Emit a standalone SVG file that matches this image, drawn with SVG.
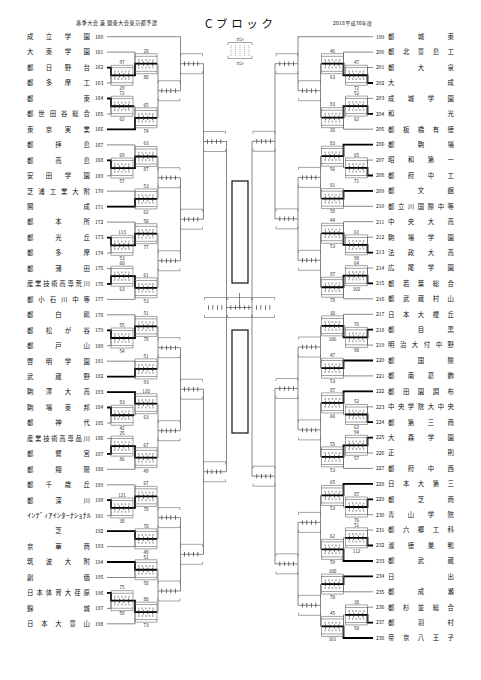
<svg xmlns="http://www.w3.org/2000/svg" xmlns:xlink="http://www.w3.org/1999/xlink" width="481" height="680" viewBox="0 0 481 680">
<style>
text{font-family:"Noto Sans CJK JP","Noto Sans CJK SC","Noto Sans",sans-serif;fill:#111}
.nm{font-size:6.4px}
.no{font-size:5px}
.sc{font-size:4.6px;text-anchor:middle;fill:#222}
.lg{font-size:3.8px;text-anchor:middle;fill:#333}
.ln{fill:none;stroke:#555;stroke-width:0.7}
.w{fill:none;stroke:#000;stroke-width:1.8}
.br{fill:none;stroke:#666;stroke-width:0.6}
.tk{fill:none;stroke:#333;stroke-width:4.5;stroke-dasharray:0.7 3.8}
.dt{fill:none;stroke:#aaa;stroke-width:2;stroke-dasharray:1.4 2.2}
.dv{fill:none;stroke:#777;stroke-width:0.6;stroke-dasharray:1 1}
.big{fill:none;stroke:#222;stroke-width:1.3}
</style>
<defs>
<g id="bu"><path class="br" d="M0,-7.5V-10H22V-7.5M0,7.5V10H22V7.5"/><path class="tk" d="M3.5,0H21"/></g>
<g id="bp"><path class="br" d="M0,-7.5V-10H22V-7.5M0,7.5V10H22V7.5"/><rect class="br" x="0" y="-7.5" width="22" height="15"/><path class="dt" d="M3,-3.8H21M3,3.8H21"/><path class="tk" d="M3.5,0H21"/></g>
</defs>
<rect width="481" height="680" fill="#fff"/>

<g id="header">
<text x="76" y="24.5" font-size="5.3" textLength="81" lengthAdjust="spacing">春季大会 兼 関東大会東京都予選</text>
<text x="205" y="28" font-size="11.5" textLength="68" lengthAdjust="spacing">Cブロック</text>
<text x="333" y="24.5" font-size="5" textLength="39" lengthAdjust="spacing">2018平成30年度</text>
</g>

<g id="legend">
<text class="lg" x="240" y="40.5">合計</text>
<path class="br" d="M228,45V42.5H252V45M228,56V58.5H252V56"/>
<path class="dv" d="M231,45V57M235.5,45V57M240,45V57M244.5,45V57M249,45V57"/>
<text class="lg" x="240" y="64.5">合計</text>
</g>

<g id="connectors">
<path class="ln" d="M107,36.7H180.5M107,52.1H135M107,67.6H111M107,83H111M107,98.5H111M107,114H111M107,129.4H135M107,144.9H135M107,160.3H111M107,175.8H111M107,191.2H135M107,206.7H135M107,222.1H135M107,237.6H111M107,253H111M107,268.5H111M107,283.9H111M107,299.4H135M107,314.8H135M107,330.3H111M107,345.7H111M107,361.2H135M107,376.6H135M107,392.1H135M107,407.5H111M107,423H111M107,438.4H111M107,453.9H111M107,469.3H135M107,484.8H135M107,500.2H111M107,515.7H111M107,531.1H135M107,546.6H135M107,562H135M107,577.5H135M107,592.9H111M107,608.4H111M107,623.8H135"/>
<path class="ln" d="M111,67.6V83M111,75.3H135M111,98.5V114M111,106.25H135M111,160.3V175.8M111,168.05H135M111,237.6V253M111,245.3H135M111,268.5V283.9M111,276.2H135M111,330.3V345.7M111,338H135M111,407.5V423M111,415.25H135M111,438.4V453.9M111,446.15H135M111,500.2V515.7M111,507.95H135M111,592.9V608.4M111,600.65H135"/>
<path class="ln" d="M135,52.1V75.3M135,63.7H158M135,106.25V129.4M135,117.8H158M135,144.9V168.05M135,156.5H158M135,191.2V206.7M135,198.95H158M135,222.1V245.3M135,233.7H158M135,276.2V299.4M135,287.8H158M135,314.8V338M135,326.4H158M135,361.2V376.6M135,368.9H158M135,392.1V415.25M135,403.7H158M135,446.15V469.3M135,457.7H158M135,484.8V507.95M135,496.4H158M135,531.1V546.6M135,538.85H158M135,562V577.5M135,569.75H158M135,600.65V623.8M135,612.2H158"/>
<path class="ln" d="M158,63.7V117.8M158,90.75H180.5M158,156.5V198.95M158,177.7H180.5M158,233.7V287.8M158,260.75H180.5M158,326.4V368.9M158,347.65H180.5M158,403.7V457.7M158,430.7H180.5M158,496.4V538.85M158,517.6H180.5M158,569.75V612.2M158,591H180.5"/>
<path class="ln" d="M180.5,36.7V90.75M180.5,63.7H203.5M180.5,177.7V260.75M180.5,219.2H203.5M180.5,347.65V430.7M180.5,389.2H203.5M180.5,517.6V591M180.5,554.3H203.5"/>
<path class="ln" d="M203.5,63.7V219.2M203.5,141.5H226.5M203.5,389.2V554.3M203.5,471.75H226.5M226.5,141.5V471.75M226.5,307.5H252"/>
<path class="ln" d="M373,36.7H298M373,52.1H343.5M373,67.5H367.5M373,83H367.5M373,98.4H367.5M373,113.8H367.5M373,129.2H343.5M373,144.6H343.5M373,160.1H367.5M373,175.5H367.5M373,190.9H343.5M373,206.3H343.5M373,221.7H343.5M373,237.2H367.5M373,252.6H367.5M373,268H367.5M373,283.4H367.5M373,298.8H343.5M373,314.3H343.5M373,329.7H367.5M373,345.1H367.5M373,360.5H343.5M373,375.9H343.5M373,391.3H343.5M373,406.8H367.5M373,422.2H367.5M373,437.6H367.5M373,453H367.5M373,468.4H343.5M373,483.9H343.5M373,499.3H367.5M373,514.7H367.5M373,530.1H367.5M373,545.5H367.5M373,561H343.5M373,576.4H343.5M373,591.8H343.5M373,607.2H367.5M373,622.6H367.5M373,638H343.5"/>
<path class="ln" d="M367.5,67.5V83M367.5,75.25H343.5M367.5,98.4V113.8M367.5,106.1H343.5M367.5,160.1V175.5M367.5,167.8H343.5M367.5,237.2V252.6M367.5,244.9H343.5M367.5,268V283.4M367.5,275.7H343.5M367.5,329.7V345.1M367.5,337.4H343.5M367.5,406.8V422.2M367.5,414.5H343.5M367.5,437.6V453M367.5,445.3H343.5M367.5,499.3V514.7M367.5,507H343.5M367.5,530.1V545.5M367.5,537.8H343.5M367.5,607.2V622.6M367.5,614.9H343.5"/>
<path class="ln" d="M343.5,52.1V75.25M343.5,63.7H320.5M343.5,106.1V129.2M343.5,117.65H320.5M343.5,144.6V167.8M343.5,156.2H320.5M343.5,190.9V206.3M343.5,198.6H320.5M343.5,221.7V244.9M343.5,233.3H320.5M343.5,275.7V298.8M343.5,287.25H320.5M343.5,314.3V337.4M343.5,325.85H320.5M343.5,360.5V375.9M343.5,368.2H320.5M343.5,391.3V414.5M343.5,402.9H320.5M343.5,445.3V468.4M343.5,456.85H320.5M343.5,483.9V507M343.5,495.45H320.5M343.5,537.8V561M343.5,549.4H320.5M343.5,576.4V591.8M343.5,584.1H320.5M343.5,614.9V638M343.5,626.45H320.5"/>
<path class="ln" d="M320.5,63.7V117.65M320.5,90.7H298M320.5,156.2V198.6M320.5,177.4H298M320.5,233.3V287.25M320.5,260.3H298M320.5,325.85V368.2M320.5,347H298M320.5,402.9V456.85M320.5,429.9H298M320.5,495.45V549.4M320.5,522.4H298M320.5,584.1V626.45M320.5,605.3H298"/>
<path class="ln" d="M298,36.7V90.7M298,63.7H275M298,177.4V260.3M298,218.85H275M298,347V429.9M298,388.45H275M298,522.4V605.3M298,563.85H275"/>
<path class="ln" d="M275,63.7V218.85M275,141.3H252M275,388.45V563.85M275,476.15H252M252,141.3V476.15M239.5,307.5V293"/>
<path class="w" d="M107,67.6H111V75.3H135V63.7H157M107,98.5H111V106.25H134M107,129.4H135V117.8H157M107,160.3H111V168.05H135V156.5H157M107,206.7H135V198.95H157M107,237.6H111V245.3H135V233.7H157M107,283.9H111V276.2H135V287.8H157M107,330.3H111V338H135V326.4H157M107,376.6H135V368.9H157M107,392.1H135V403.7H157M107,407.5H111V415.25H134M107,453.9H111V446.15H135V457.7H157M107,500.2H111V507.95H135V496.4H157M107,531.1H135V538.85H157M107,562H135V569.75H157M107,592.9H111V600.65H135V612.2H157"/>
<path class="w" d="M373,83H367.5V75.25H343.5V63.7H321.5M373,113.8H367.5V106.1H343.5V117.65H321.5M373,144.6H343.5V156.2H321.5M373,175.5H367.5V167.8H345M373,190.9H343.5V198.6H321.5M373,252.6H367.5V244.9H343.5V233.3H321.5M373,283.4H367.5V275.7H343.5V287.25H321.5M373,329.7H367.5V337.4H343.5V325.85H321.5M373,360.5H343.5V368.2H321.5M373,391.3H343.5V402.9H321.5M373,422.2H367.5V414.5H345M373,437.6H367.5V445.3H343.5V456.85H321.5M373,483.9H343.5V495.45H321.5M373,499.3H367.5V507H345M373,545.5H367.5V537.8H345M373,561H343.5V549.4H321.5M373,576.4H343.5V584.1H321.5M373,622.6H367.5V614.9H345M373,638H343.5V626.45H321.5"/>
</g>

<g id="center">
<rect class="big" x="232" y="181" width="16" height="102"/>
<rect class="big" x="232" y="330" width="16" height="103"/>
<use href="#bu" x="204.5" y="307.5"/>
<use href="#bu" x="252.5" y="307.5"/>
<path class="br" d="M227.5,300V297.5H251.5V300M227.5,315V317.5H251.5V315"/>
<path class="tk" d="M230.5,307.5H250"/>
</g>

<g id="matches-left">
<g id="m162-163"><use href="#bp" x="111" y="75.3"/><text class="sc" x="122" y="64.1">97</text><text class="sc" x="122" y="90.1">29</text></g>
<g id="m164-165"><use href="#bp" x="111" y="106.25"/><text class="sc" x="122" y="95.05">72</text><text class="sc" x="122" y="121.05">62</text></g>
<g id="m168-169"><use href="#bp" x="111" y="168.05"/><text class="sc" x="122" y="156.85">69</text><text class="sc" x="122" y="182.85">57</text></g>
<g id="m173-174"><use href="#bp" x="111" y="245.3"/><text class="sc" x="122" y="234.1">113</text><text class="sc" x="122" y="260.1">53</text></g>
<g id="m175-176"><use href="#bp" x="111" y="276.2"/><text class="sc" x="122" y="265">60</text><text class="sc" x="122" y="291">63</text></g>
<g id="m179-180"><use href="#bp" x="111" y="338"/><text class="sc" x="122" y="326.8">55</text><text class="sc" x="122" y="352.8">54</text></g>
<g id="m184-185"><use href="#bp" x="111" y="415.25"/><text class="sc" x="122" y="404.05">83</text><text class="sc" x="122" y="430.05">42</text></g>
<g id="m186-187"><use href="#bp" x="111" y="446.15"/><text class="sc" x="122" y="434.95">25</text><text class="sc" x="122" y="460.95">86</text></g>
<g id="m190-191"><use href="#bp" x="111" y="507.95"/><text class="sc" x="122" y="496.75">121</text><text class="sc" x="122" y="522.75">30</text></g>
<g id="m196-197"><use href="#bp" x="111" y="600.65"/><text class="sc" x="122" y="589.45">75</text><text class="sc" x="122" y="615.45">58</text></g>
<g id="n1"><use href="#bp" x="135" y="63.7"/><text class="sc" x="146" y="52.5">28</text><text class="sc" x="146" y="78.5">80</text></g>
<g id="n2"><use href="#bp" x="135" y="117.8"/><text class="sc" x="146" y="106.6">65</text><text class="sc" x="146" y="132.6">74</text></g>
<g id="n3"><use href="#bp" x="135" y="156.5"/><text class="sc" x="146" y="145.3">63</text><text class="sc" x="146" y="171.3">87</text></g>
<g id="n4"><use href="#bp" x="135" y="198.95"/><text class="sc" x="146" y="187.75">53</text><text class="sc" x="146" y="213.75">62</text></g>
<g id="n5"><use href="#bp" x="135" y="233.7"/><text class="sc" x="146" y="222.5">50</text><text class="sc" x="146" y="248.5">77</text></g>
<g id="n6"><use href="#bp" x="135" y="287.8"/><text class="sc" x="146" y="276.6">61</text><text class="sc" x="146" y="302.6">53</text></g>
<g id="n7"><use href="#bp" x="135" y="326.4"/><text class="sc" x="146" y="315.2">51</text><text class="sc" x="146" y="341.2">78</text></g>
<g id="n8"><use href="#bp" x="135" y="368.9"/><text class="sc" x="146" y="357.7">51</text><text class="sc" x="146" y="383.7">93</text></g>
<g id="n9"><use href="#bp" x="135" y="403.7"/><text class="sc" x="146" y="392.5">110</text><text class="sc" x="146" y="418.5">63</text></g>
<g id="n10"><use href="#bp" x="135" y="457.7"/><text class="sc" x="146" y="446.5">67</text><text class="sc" x="146" y="472.5">49</text></g>
<g id="n11"><use href="#bp" x="135" y="496.4"/><text class="sc" x="146" y="485.2">67</text><text class="sc" x="146" y="511.2">78</text></g>
<g id="n12"><use href="#bp" x="135" y="538.85"/><text class="sc" x="146" y="527.65">70</text><text class="sc" x="146" y="553.65">48</text></g>
<g id="n13"><use href="#bp" x="135" y="569.75"/><text class="sc" x="146" y="558.55">51</text><text class="sc" x="146" y="584.55">58</text></g>
<g id="n14"><use href="#bp" x="135" y="612.2"/><text class="sc" x="146" y="601">80</text><text class="sc" x="146" y="627">73</text></g>
<g id="p1"><use href="#bu" x="158" y="90.75"/></g>
<g id="p2"><use href="#bu" x="158" y="177.7"/></g>
<g id="p3"><use href="#bu" x="158" y="260.75"/></g>
<g id="p4"><use href="#bu" x="158" y="347.65"/></g>
<g id="p5"><use href="#bu" x="158" y="430.7"/></g>
<g id="p6"><use href="#bu" x="158" y="517.6"/></g>
<g id="p7"><use href="#bu" x="158" y="591"/></g>
<g id="q1"><use href="#bu" x="180.5" y="63.7"/></g>
<g id="q2"><use href="#bu" x="180.5" y="219.2"/></g>
<g id="q3"><use href="#bu" x="180.5" y="389.2"/></g>
<g id="q4"><use href="#bu" x="180.5" y="554.3"/></g>
<g id="r1"><use href="#bu" x="203.5" y="141.5"/></g>
<g id="r2"><use href="#bu" x="203.5" y="471.75"/></g>
</g>

<g id="matches-right">
<g id="m201-202"><use href="#bp" x="345.5" y="75.25"/><text class="sc" x="356.5" y="64.05">47</text><text class="sc" x="356.5" y="90.05">72</text></g>
<g id="m203-204"><use href="#bp" x="345.5" y="106.1"/><text class="sc" x="356.5" y="94.9">52</text><text class="sc" x="356.5" y="120.9">62</text></g>
<g id="m207-208"><use href="#bp" x="345.5" y="167.8"/><text class="sc" x="356.5" y="156.6">65</text><text class="sc" x="356.5" y="182.6">71</text></g>
<g id="m212-213"><use href="#bp" x="345.5" y="244.9"/><text class="sc" x="356.5" y="233.7">61</text><text class="sc" x="356.5" y="259.7">90</text></g>
<g id="m214-215"><use href="#bp" x="345.5" y="275.7"/><text class="sc" x="356.5" y="264.5">64</text><text class="sc" x="356.5" y="290.5">102</text></g>
<g id="m218-219"><use href="#bp" x="345.5" y="337.4"/><text class="sc" x="356.5" y="326.2">76</text><text class="sc" x="356.5" y="352.2">90</text></g>
<g id="m223-224"><use href="#bp" x="345.5" y="414.5"/><text class="sc" x="356.5" y="403.3">52</text><text class="sc" x="356.5" y="429.3">62</text></g>
<g id="m225-226"><use href="#bp" x="345.5" y="445.3"/><text class="sc" x="356.5" y="434.1">94</text><text class="sc" x="356.5" y="460.1">57</text></g>
<g id="m229-230"><use href="#bp" x="345.5" y="507"/><text class="sc" x="356.5" y="495.8">87</text><text class="sc" x="356.5" y="521.8">76</text></g>
<g id="m231-232"><use href="#bp" x="345.5" y="537.8"/><text class="sc" x="356.5" y="526.6">51</text><text class="sc" x="356.5" y="552.6">112</text></g>
<g id="m236-237"><use href="#bp" x="345.5" y="614.9"/><text class="sc" x="356.5" y="603.7">38</text><text class="sc" x="356.5" y="629.7">50</text></g>
<g id="N1"><use href="#bp" x="321.5" y="63.7"/><text class="sc" x="332.5" y="52.5">46</text><text class="sc" x="332.5" y="78.5">63</text></g>
<g id="N2"><use href="#bp" x="321.5" y="117.65"/><text class="sc" x="332.5" y="106.45">83</text><text class="sc" x="332.5" y="132.45">26</text></g>
<g id="N3"><use href="#bp" x="321.5" y="156.2"/><text class="sc" x="332.5" y="145">83</text><text class="sc" x="332.5" y="171">56</text></g>
<g id="N4"><use href="#bp" x="321.5" y="198.6"/><text class="sc" x="332.5" y="187.4">81</text><text class="sc" x="332.5" y="213.4">58</text></g>
<g id="N5"><use href="#bp" x="321.5" y="233.3"/><text class="sc" x="332.5" y="222.1">44</text><text class="sc" x="332.5" y="248.1">53</text></g>
<g id="N6"><use href="#bp" x="321.5" y="287.25"/><text class="sc" x="332.5" y="276.05">87</text><text class="sc" x="332.5" y="302.05">78</text></g>
<g id="N7"><use href="#bp" x="321.5" y="325.85"/><text class="sc" x="332.5" y="314.65">30</text><text class="sc" x="332.5" y="340.65">106</text></g>
<g id="N8"><use href="#bp" x="321.5" y="368.2"/><text class="sc" x="332.5" y="357">47</text><text class="sc" x="332.5" y="383">53</text></g>
<g id="N9"><use href="#bp" x="321.5" y="402.9"/><text class="sc" x="332.5" y="391.7">87</text><text class="sc" x="332.5" y="417.7">60</text></g>
<g id="N10"><use href="#bp" x="321.5" y="456.85"/><text class="sc" x="332.5" y="445.65">55</text><text class="sc" x="332.5" y="471.65">53</text></g>
<g id="N11"><use href="#bp" x="321.5" y="495.45"/><text class="sc" x="332.5" y="484.25">65</text><text class="sc" x="332.5" y="510.25">53</text></g>
<g id="N12"><use href="#bp" x="321.5" y="549.4"/><text class="sc" x="332.5" y="538.2">62</text><text class="sc" x="332.5" y="564.2">59</text></g>
<g id="N13"><use href="#bp" x="321.5" y="584.1"/><text class="sc" x="332.5" y="572.9">100</text><text class="sc" x="332.5" y="598.9">70</text></g>
<g id="N14"><use href="#bp" x="321.5" y="626.45"/><text class="sc" x="332.5" y="615.25">45</text><text class="sc" x="332.5" y="641.25">161</text></g>
<g id="P1"><use href="#bu" x="298.5" y="90.7"/></g>
<g id="P2"><use href="#bu" x="298.5" y="177.4"/></g>
<g id="P3"><use href="#bu" x="298.5" y="260.3"/></g>
<g id="P4"><use href="#bu" x="298.5" y="347"/></g>
<g id="P5"><use href="#bu" x="298.5" y="429.9"/></g>
<g id="P6"><use href="#bu" x="298.5" y="522.4"/></g>
<g id="P7"><use href="#bu" x="298.5" y="605.3"/></g>
<g id="Q1"><use href="#bu" x="276" y="63.7"/></g>
<g id="Q2"><use href="#bu" x="276" y="218.85"/></g>
<g id="Q3"><use href="#bu" x="276" y="388.45"/></g>
<g id="Q4"><use href="#bu" x="276" y="563.85"/></g>
<g id="R1"><use href="#bu" x="253" y="141.3"/></g>
<g id="R2"><use href="#bu" x="253" y="476.15"/></g>
</g>

<g id="teams-left">
<g id="t160"><text class="nm" x="27" y="39" textLength="63" lengthAdjust="spacing">成立学園</text><text class="no" x="95" y="38.5">160</text></g>
<g id="t161"><text class="nm" x="27" y="54.4" textLength="63" lengthAdjust="spacing">大東学園</text><text class="no" x="95" y="53.9">161</text></g>
<g id="t162"><text class="nm" x="27" y="69.9" textLength="63" lengthAdjust="spacing">都日野台</text><text class="no" x="95" y="69.4">162</text></g>
<g id="t163"><text class="nm" x="27" y="85.3" textLength="63" lengthAdjust="spacing">都多摩工</text><text class="no" x="95" y="84.8">163</text></g>
<g id="t164"><text class="nm" x="27" y="100.8" textLength="63" lengthAdjust="spacing">都東</text><text class="no" x="95" y="100.3">164</text></g>
<g id="t165"><text class="nm" x="27" y="116.3" textLength="63" lengthAdjust="spacing">都世田谷総合</text><text class="no" x="95" y="115.8">165</text></g>
<g id="t166"><text class="nm" x="27" y="131.7" textLength="63" lengthAdjust="spacing">東京実業</text><text class="no" x="95" y="131.2">166</text></g>
<g id="t167"><text class="nm" x="27" y="147.2" textLength="63" lengthAdjust="spacing">都拝島</text><text class="no" x="95" y="146.7">167</text></g>
<g id="t168"><text class="nm" x="27" y="162.6" textLength="63" lengthAdjust="spacing">都高島</text><text class="no" x="95" y="162.1">168</text></g>
<g id="t169"><text class="nm" x="27" y="178.1" textLength="63" lengthAdjust="spacing">安田学園</text><text class="no" x="95" y="177.6">169</text></g>
<g id="t170"><text class="nm" x="27" y="193.5" textLength="63" lengthAdjust="spacing">芝浦工業大附</text><text class="no" x="95" y="193">170</text></g>
<g id="t171"><text class="nm" x="27" y="209" textLength="63" lengthAdjust="spacing">開成</text><text class="no" x="95" y="208.5">171</text></g>
<g id="t172"><text class="nm" x="27" y="224.4" textLength="63" lengthAdjust="spacing">都本所</text><text class="no" x="95" y="223.9">172</text></g>
<g id="t173"><text class="nm" x="27" y="239.9" textLength="63" lengthAdjust="spacing">都光丘</text><text class="no" x="95" y="239.4">173</text></g>
<g id="t174"><text class="nm" x="27" y="255.3" textLength="63" lengthAdjust="spacing">都多摩</text><text class="no" x="95" y="254.8">174</text></g>
<g id="t175"><text class="nm" x="27" y="270.8" textLength="63" lengthAdjust="spacing">都蒲田</text><text class="no" x="95" y="270.3">175</text></g>
<g id="t176"><text class="nm" x="27" y="286.2" textLength="63" lengthAdjust="spacing">産業技術高専荒川</text><text class="no" x="95" y="285.7">176</text></g>
<g id="t177"><text class="nm" x="27" y="301.7" textLength="63" lengthAdjust="spacing">都小石川中等</text><text class="no" x="95" y="301.2">177</text></g>
<g id="t178"><text class="nm" x="27" y="317.1" textLength="63" lengthAdjust="spacing">都白鴎</text><text class="no" x="95" y="316.6">178</text></g>
<g id="t179"><text class="nm" x="27" y="332.6" textLength="63" lengthAdjust="spacing">都松が谷</text><text class="no" x="95" y="332.1">179</text></g>
<g id="t180"><text class="nm" x="27" y="348" textLength="63" lengthAdjust="spacing">都戸山</text><text class="no" x="95" y="347.5">180</text></g>
<g id="t181"><text class="nm" x="27" y="363.5" textLength="63" lengthAdjust="spacing">啓明学園</text><text class="no" x="95" y="363">181</text></g>
<g id="t182"><text class="nm" x="27" y="378.9" textLength="63" lengthAdjust="spacing">武蔵野</text><text class="no" x="95" y="378.4">182</text></g>
<g id="t183"><text class="nm" x="27" y="394.4" textLength="63" lengthAdjust="spacing">駒澤大高</text><text class="no" x="95" y="393.9">183</text></g>
<g id="t184"><text class="nm" x="27" y="409.8" textLength="63" lengthAdjust="spacing">駒場東邦</text><text class="no" x="95" y="409.3">184</text></g>
<g id="t185"><text class="nm" x="27" y="425.3" textLength="63" lengthAdjust="spacing">都神代</text><text class="no" x="95" y="424.8">185</text></g>
<g id="t186"><text class="nm" x="27" y="440.7" textLength="63" lengthAdjust="spacing">産業技術高専品川</text><text class="no" x="95" y="440.2">186</text></g>
<g id="t187"><text class="nm" x="27" y="456.2" textLength="63" lengthAdjust="spacing">都鷺宮</text><text class="no" x="95" y="455.7">187</text></g>
<g id="t188"><text class="nm" x="27" y="471.6" textLength="63" lengthAdjust="spacing">都翔陽</text><text class="no" x="95" y="471.1">188</text></g>
<g id="t189"><text class="nm" x="27" y="487.1" textLength="63" lengthAdjust="spacing">都千歳丘</text><text class="no" x="95" y="486.6">189</text></g>
<g id="t190"><text class="nm" x="27" y="502.5" textLength="63" lengthAdjust="spacing">都深川</text><text class="no" x="95" y="502">190</text></g>
<g id="t191"><text class="nm" x="27" y="518" font-size="5.6" textLength="64" lengthAdjust="spacingAndGlyphs">ｲﾝﾃﾞｨｱｲﾝﾀｰﾅｼｮﾅﾙ</text><text class="no" x="95" y="517.5">191</text></g>
<g id="t192"><text class="nm" x="58.5" y="533.4" text-anchor="middle">芝</text><text class="no" x="95" y="532.9">192</text></g>
<g id="t193"><text class="nm" x="27" y="548.9" textLength="63" lengthAdjust="spacing">京華商</text><text class="no" x="95" y="548.4">193</text></g>
<g id="t194"><text class="nm" x="27" y="564.3" textLength="63" lengthAdjust="spacing">筑波大附</text><text class="no" x="95" y="563.8">194</text></g>
<g id="t195"><text class="nm" x="27" y="579.8" textLength="63" lengthAdjust="spacing">創価</text><text class="no" x="95" y="579.3">195</text></g>
<g id="t196"><text class="nm" x="27" y="595.2" textLength="63" lengthAdjust="spacing">日本体育大荏原</text><text class="no" x="95" y="594.7">196</text></g>
<g id="t197"><text class="nm" x="27" y="610.7" textLength="63" lengthAdjust="spacing">錦城</text><text class="no" x="95" y="610.2">197</text></g>
<g id="t198"><text class="nm" x="27" y="626.1" textLength="63" lengthAdjust="spacing">日本大豊山</text><text class="no" x="95" y="625.6">198</text></g>
</g>

<g id="teams-right">
<g id="t199"><text class="no" x="376" y="38.5">199</text><text class="nm" x="388" y="39" textLength="66" lengthAdjust="spacing">都城東</text></g>
<g id="t200"><text class="no" x="376" y="53.9">200</text><text class="nm" x="388" y="54.4" textLength="66" lengthAdjust="spacing">都北豊島工</text></g>
<g id="t201"><text class="no" x="376" y="69.3">201</text><text class="nm" x="388" y="69.8" textLength="66" lengthAdjust="spacing">都大泉</text></g>
<g id="t202"><text class="no" x="376" y="84.8">202</text><text class="nm" x="388" y="85.3" textLength="66" lengthAdjust="spacing">大成</text></g>
<g id="t203"><text class="no" x="376" y="100.2">203</text><text class="nm" x="388" y="100.7" textLength="66" lengthAdjust="spacing">成城学園</text></g>
<g id="t204"><text class="no" x="376" y="115.6">204</text><text class="nm" x="388" y="116.1" textLength="66" lengthAdjust="spacing">和光</text></g>
<g id="t205"><text class="no" x="376" y="131">205</text><text class="nm" x="388" y="131.5" textLength="66" lengthAdjust="spacing">都板橋有徳</text></g>
<g id="t206"><text class="no" x="376" y="146.4">206</text><text class="nm" x="388" y="146.9" textLength="66" lengthAdjust="spacing">都駒場</text></g>
<g id="t207"><text class="no" x="376" y="161.9">207</text><text class="nm" x="388" y="162.4" textLength="66" lengthAdjust="spacing">昭和第一</text></g>
<g id="t208"><text class="no" x="376" y="177.3">208</text><text class="nm" x="388" y="177.8" textLength="66" lengthAdjust="spacing">都府中工</text></g>
<g id="t209"><text class="no" x="376" y="192.7">209</text><text class="nm" x="388" y="193.2" textLength="66" lengthAdjust="spacing">都文館</text></g>
<g id="t210"><text class="no" x="376" y="208.1">210</text><text class="nm" x="388" y="208.6" textLength="66" lengthAdjust="spacing">都立川国際中等</text></g>
<g id="t211"><text class="no" x="376" y="223.5">211</text><text class="nm" x="388" y="224" textLength="66" lengthAdjust="spacing">中央大高</text></g>
<g id="t212"><text class="no" x="376" y="239">212</text><text class="nm" x="388" y="239.5" textLength="66" lengthAdjust="spacing">駒場学園</text></g>
<g id="t213"><text class="no" x="376" y="254.4">213</text><text class="nm" x="388" y="254.9" textLength="66" lengthAdjust="spacing">法政大高</text></g>
<g id="t214"><text class="no" x="376" y="269.8">214</text><text class="nm" x="388" y="270.3" textLength="66" lengthAdjust="spacing">広尾学園</text></g>
<g id="t215"><text class="no" x="376" y="285.2">215</text><text class="nm" x="388" y="285.7" textLength="66" lengthAdjust="spacing">都若葉総合</text></g>
<g id="t216"><text class="no" x="376" y="300.6">216</text><text class="nm" x="388" y="301.1" textLength="66" lengthAdjust="spacing">都武蔵村山</text></g>
<g id="t217"><text class="no" x="376" y="316.1">217</text><text class="nm" x="388" y="316.6" textLength="66" lengthAdjust="spacing">日本大櫻丘</text></g>
<g id="t218"><text class="no" x="376" y="331.5">218</text><text class="nm" x="388" y="332" textLength="66" lengthAdjust="spacing">都目黒</text></g>
<g id="t219"><text class="no" x="376" y="346.9">219</text><text class="nm" x="388" y="347.4" textLength="66" lengthAdjust="spacing">明治大付中野</text></g>
<g id="t220"><text class="no" x="376" y="362.3">220</text><text class="nm" x="388" y="362.8" textLength="66" lengthAdjust="spacing">都国際</text></g>
<g id="t221"><text class="no" x="376" y="377.7">221</text><text class="nm" x="388" y="378.2" textLength="66" lengthAdjust="spacing">都南葛飾</text></g>
<g id="t222"><text class="no" x="376" y="393.1">222</text><text class="nm" x="388" y="393.6" textLength="66" lengthAdjust="spacing">都田園調布</text></g>
<g id="t223"><text class="no" x="376" y="408.6">223</text><text class="nm" x="388" y="409.1" textLength="66" lengthAdjust="spacing">中央学院大中央</text></g>
<g id="t224"><text class="no" x="376" y="424">224</text><text class="nm" x="388" y="424.5" textLength="66" lengthAdjust="spacing">都第三商</text></g>
<g id="t225"><text class="no" x="376" y="439.4">225</text><text class="nm" x="388" y="439.9" textLength="66" lengthAdjust="spacing">大森学園</text></g>
<g id="t226"><text class="no" x="376" y="454.8">226</text><text class="nm" x="388" y="455.3" textLength="66" lengthAdjust="spacing">正則</text></g>
<g id="t227"><text class="no" x="376" y="470.2">227</text><text class="nm" x="388" y="470.7" textLength="66" lengthAdjust="spacing">都府中西</text></g>
<g id="t228"><text class="no" x="376" y="485.7">228</text><text class="nm" x="388" y="486.2" textLength="66" lengthAdjust="spacing">日本大第三</text></g>
<g id="t229"><text class="no" x="376" y="501.1">229</text><text class="nm" x="388" y="501.6" textLength="66" lengthAdjust="spacing">都芝商</text></g>
<g id="t230"><text class="no" x="376" y="516.5">230</text><text class="nm" x="388" y="517" textLength="66" lengthAdjust="spacing">青山学院</text></g>
<g id="t231"><text class="no" x="376" y="531.9">231</text><text class="nm" x="388" y="532.4" textLength="66" lengthAdjust="spacing">都六郷工科</text></g>
<g id="t232"><text class="no" x="376" y="547.3">232</text><text class="nm" x="388" y="547.8" textLength="66" lengthAdjust="spacing">淑徳巣鴨</text></g>
<g id="t233"><text class="no" x="376" y="562.8">233</text><text class="nm" x="388" y="563.3" textLength="66" lengthAdjust="spacing">都武蔵</text></g>
<g id="t234"><text class="no" x="376" y="578.2">234</text><text class="nm" x="388" y="578.7" textLength="66" lengthAdjust="spacing">日出</text></g>
<g id="t235"><text class="no" x="376" y="593.6">235</text><text class="nm" x="388" y="594.1" textLength="66" lengthAdjust="spacing">都成瀬</text></g>
<g id="t236"><text class="no" x="376" y="609">236</text><text class="nm" x="388" y="609.5" textLength="66" lengthAdjust="spacing">都杉並総合</text></g>
<g id="t237"><text class="no" x="376" y="624.4">237</text><text class="nm" x="388" y="624.9" textLength="66" lengthAdjust="spacing">都羽村</text></g>
<g id="t238"><text class="no" x="376" y="639.8">238</text><text class="nm" x="388" y="640.3" textLength="66" lengthAdjust="spacing">帝京八王子</text></g>
</g>
</svg>
